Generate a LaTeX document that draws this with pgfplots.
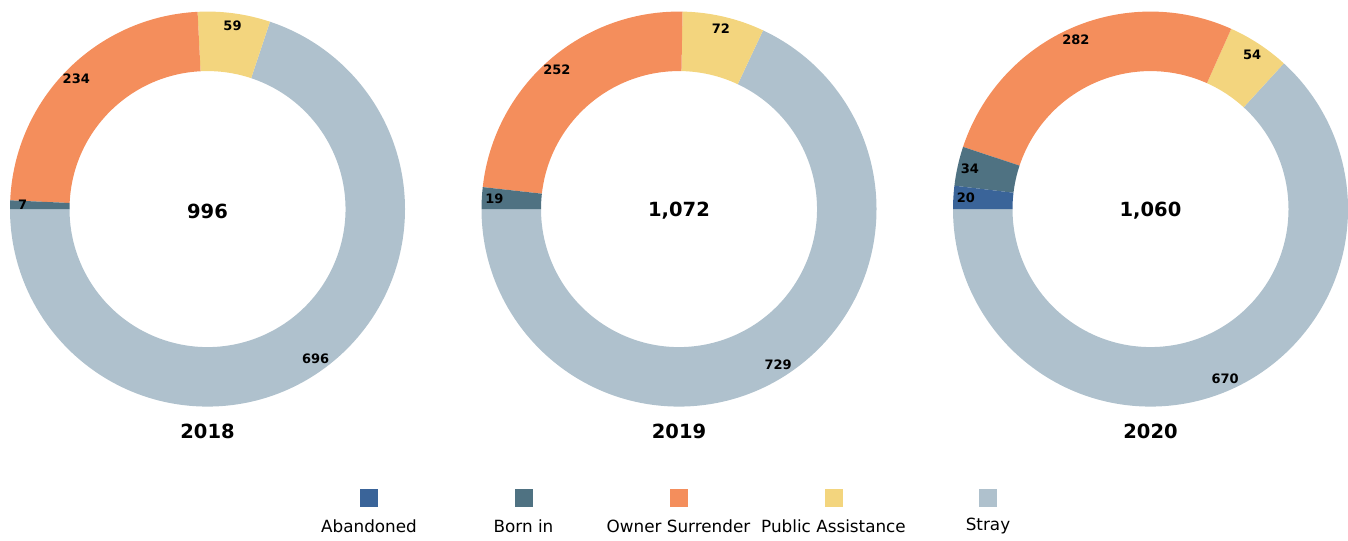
\documentclass[border=0pt]{standalone}
\usepackage{pgfplots}
\pgfplotsset{compat=1.18}
\usepackage{fontspec}
\setmainfont{DejaVu Sans}

\definecolor{caband}{HTML}{3A6499}
\definecolor{cborn}{HTML}{4F7282}
\definecolor{cowner}{HTML}{F48E5C}
\definecolor{cpublic}{HTML}{F3D57E}
\definecolor{cstray}{HTML}{AFC1CD}

\newcommand\lblfont{\fontsize{13}{15}\selectfont\bfseries}
\newcommand\bigfont{\fontsize{19.5}{22}\selectfont\bfseries}
\newcommand\legfont{\fontsize{16.8}{19}\selectfont}

% donut geometry (1 axis unit = 1pt)
\def\cy{331}
\def\Ro{197.5}
\def\Ri{138}
\def\Rl{185}

% one ring segment: #1 centre x, #2 value, #3 colour
\newcommand\slice[3]{%
  \ifdim #2pt>0pt
    \pgfmathsetmacro\angb{\ang+#2/\tot*360}%
    \pgfmathsetmacro\angm{(\ang+\angb)/2}%
    \edef\tmp{\noexpand\fill[#3] (axis cs:{#1+\Ro*cos(\ang)},{\cy+\Ro*sin(\ang)})
      arc[start angle=\ang, end angle=\angb, radius=\Ro pt]
      -- (axis cs:{#1+\Ri*cos(\angb)},{\cy+\Ri*sin(\angb)})
      arc[start angle=\angb, end angle=\ang, radius=\Ri pt] -- cycle;
      \noexpand\node[font=\noexpand\lblfont] at (axis cs:{#1+\Rl*cos(\angm)},{\cy+\Rl*sin(\angm)}) {#2};}%
    \tmp
    \let\ang\angb
  \fi}

% #1 centre x, #2 total text, #3 year, #4..#8 Abandoned, Born in, Owner Surrender, Public Assistance, Stray
\newcommand\donut[8]{%
  \pgfmathsetmacro\tot{#4+#5+#6+#7+#8}%
  \def\ang{180}%
  \slice{#1}{#8}{cstray}%
  \slice{#1}{#7}{cpublic}%
  \slice{#1}{#6}{cowner}%
  \slice{#1}{#5}{cborn}%
  \slice{#1}{#4}{caband}%
  \node[font=\bigfont] at (axis cs:#1,329) {#2};
  \node[font=\bigfont] at (axis cs:#1,109) {#3};}

\newcommand\legitem[3]{%
  \fill[#2] (axis cs:#1-9,33) rectangle (axis cs:#1+9,51);
  \node[font=\legfont] at (axis cs:#1,14) {#3};}

\begin{document}
\begin{tikzpicture}
\begin{axis}[
    width=1348pt, height=539pt, scale only axis,
    xmin=0, xmax=1348, ymin=0, ymax=539,
    hide axis, clip=false
]
\path (axis cs:0,0) rectangle (axis cs:1348,539);

\donut{207.5}{996}{2018}{0}{7}{234}{59}{696}
\donut{679}{1,072}{2019}{0}{19}{252}{72}{729}
\donut{1150.5}{1,060}{2020}{20}{34}{282}{54}{670}

\legitem{369}{caband}{Abandoned}
\legitem{523.5}{cborn}{Born in}
\legitem{678.5}{cowner}{Owner Surrender}
\legitem{833.5}{cpublic}{Public Assistance}
\legitem{988}{cstray}{Stray}
\end{axis}
\end{tikzpicture}
\end{document}
